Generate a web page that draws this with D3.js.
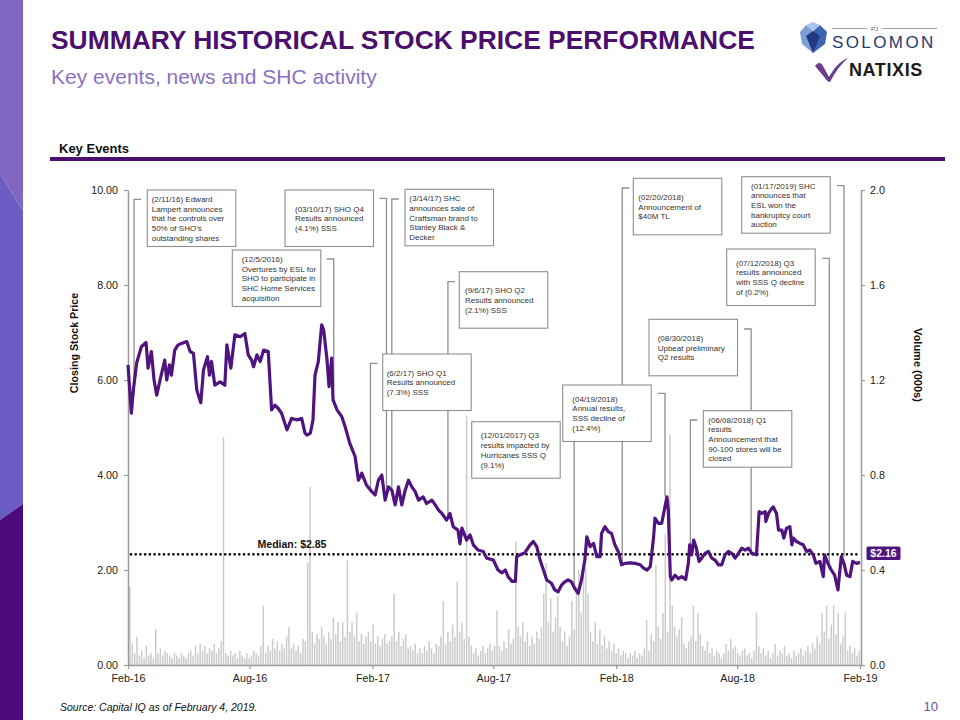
<!DOCTYPE html>
<html><head><meta charset="utf-8">
<script src="https://cdn.jsdelivr.net/npm/d3@7/dist/d3.min.js"></script>
<style>
body{margin:0;background:#fff;}
svg{display:block;font-family:"Liberation Sans",Arial,Helvetica,sans-serif;}
</style>
</head><body>
<svg id="c" width="960" height="720"></svg>
<script>
// ---------------- DATA ----------------
// Closing price: calendar-day offset from 2016-02-01, and closing price ($)
const priceStartDate = "2016-02-01";
const priceDayOffset = [0,5,8,13,20,27,30,35,39,43,48,55,58,62,65,70,75,80,88,93,98,103,109,113,119,122,125,130,138,145,148,154,160,168,175,180,185,188,193,198,203,210,215,220,225,230,238,245,253,260,265,268,273,277,280,285,290,293,298,301,305,307,313,320,325,332,340,345,350,357,365,370,375,380,385,390,395,400,405,410,415,420,425,430,435,442,447,455,460,465,470,477,482,487,494,497,500,507,512,517,524,532,537,547,554,560,565,569,575,580,582,587,594,602,607,612,617,622,627,634,639,644,649,654,659,664,669,674,679,684,687,692,697,702,707,709,714,719,724,729,734,739,744,752,759,767,772,777,782,787,789,794,799,802,807,809,812,814,819,824,829,835,839,841,844,847,851,855,859,864,869,874,879,884,889,894,899,904,909,914,919,924,929,934,941,945,949,954,955,959,964,966,971,974,979,982,986,991,994,996,1001,1006,1011,1016,1021,1026,1030,1036,1041,1043,1048,1053,1058,1063,1068,1072,1076,1081,1085,1091,1096];
const priceClose = [6.32,5.30,5.79,6.36,6.70,6.79,6.25,6.60,6.00,5.68,6.00,6.42,6.00,6.32,6.10,6.63,6.74,6.77,6.81,6.60,6.56,5.79,5.52,6.21,6.49,6.10,6.39,5.89,5.96,5.89,6.74,6.25,6.95,6.91,6.98,6.53,6.42,6.28,6.53,6.39,6.63,6.60,5.37,5.47,5.40,5.30,4.95,5.19,5.16,5.19,4.88,4.84,4.88,5.16,6.10,6.39,7.16,7.05,6.42,5.86,6.46,5.58,5.37,5.23,5.02,4.67,4.39,3.89,4.04,3.79,3.65,3.58,3.89,4.00,3.47,3.75,3.68,3.37,3.75,3.37,3.68,3.89,3.75,3.65,3.47,3.54,3.40,3.47,3.37,3.26,3.19,3.05,3.19,2.91,2.84,2.55,2.88,2.63,2.74,2.53,2.42,2.39,2.25,2.21,2.00,1.94,2.00,1.86,1.76,1.76,2.28,2.32,2.36,2.53,2.60,2.49,2.21,2.00,1.79,1.72,1.58,1.54,1.68,1.75,1.79,1.75,1.61,1.51,1.79,2.21,2.70,2.49,2.56,2.28,2.28,2.77,2.91,2.81,2.77,2.53,2.39,2.11,2.14,2.15,2.14,2.11,2.04,2.00,2.07,2.70,3.09,2.98,2.98,3.19,3.54,3.26,1.86,1.79,1.89,1.82,1.86,1.80,2.14,2.53,2.32,2.63,2.46,2.18,2.25,2.35,2.39,2.25,2.21,2.11,2.11,2.32,2.39,2.35,2.25,2.35,2.46,2.42,2.46,2.35,2.32,3.23,3.19,3.23,3.02,3.19,3.30,3.33,3.19,2.84,2.84,2.67,2.88,2.91,2.53,2.67,2.60,2.56,2.53,2.39,2.42,2.32,2.14,2.18,1.86,2.32,2.14,2.00,1.89,1.58,2.28,2.14,1.89,1.86,2.18,2.14,2.16];

// Volume (right axis), one reading every 3.5 calendar days from 2016-02-04
const volumeStartDate = "2016-02-04";
const volumeStepDays = 3.5;
const volume = [0.33,0.09,0.05,0.12,0.04,0.06,0.03,0.08,0.04,0.05,0.03,0.15,0.05,0.07,0.04,0.06,0.05,0.04,0.03,0.05,0.04,0.03,0.05,0.04,0.03,0.05,
0.06,0.04,0.08,0.05,0.09,0.06,0.08,0.05,0.07,0.06,0.09,0.05,0.07,0.10,0.96,0.05,0.04,0.06,0.04,0.05,0.03,0.06,0.04,0.03,0.05,0.03,0.04,0.06,0.05,0.04,0.08,0.25,0.05,0.08,0.06,0.11,0.07,0.10,0.06,0.09,0.07,0.12,0.16,0.07,0.09,0.06,0.08,0.05,0.11,0.10,0.43,0.75,0.14,0.09,0.13,0.11,0.16,0.12,0.09,0.14,0.11,0.20,0.13,0.18,0.10,0.18,0.12,0.44,0.14,0.18,0.12,0.22,0.10,0.13,0.09,0.12,0.14,0.10,0.17,0.09,0.12,0.08,0.11,0.13,0.09,0.10,0.12,0.30,0.10,0.14,0.08,0.11,0.13,0.07,0.08,0.06,0.09,0.05,0.07,0.05,0.08,0.06,0.10,0.07,0.05,0.09,0.08,0.12,0.27,0.09,0.14,0.10,0.17,0.12,0.35,0.14,0.18,0.11,1.05,0.12,0.08,0.05,0.07,0.04,0.06,0.08,0.05,0.07,0.09,0.06,0.08,0.23,0.08,0.06,0.10,0.07,0.15,0.09,0.11,0.52,0.16,0.12,0.18,0.10,0.14,0.08,0.12,0.09,0.14,0.11,0.16,0.30,0.43,0.18,0.28,0.14,0.20,0.29,0.16,0.10,0.14,0.08,0.12,0.27,0.15,0.33,0.40,0.22,0.43,0.41,0.30,0.14,0.10,0.18,0.09,0.15,0.08,0.12,0.07,0.10,0.06,0.09,0.05,0.07,0.04,0.06,0.05,0.03,0.05,0.04,0.06,0.03,0.05,0.04,0.07,0.19,0.06,0.13,0.10,0.42,0.16,0.11,0.22,0.55,0.14,0.97,0.25,0.16,0.12,0.15,0.20,0.09,0.07,0.10,0.12,0.25,0.10,0.22,0.13,0.08,0.06,0.10,0.05,0.07,0.04,0.06,0.05,0.03,0.05,0.09,0.06,0.11,0.07,0.08,0.05,0.04,0.06,0.07,0.04,0.05,0.03,0.06,0.22,0.08,0.05,0.07,0.04,0.06,0.03,0.05,0.09,0.04,0.06,0.05,0.08,0.04,0.05,0.03,0.06,0.04,0.05,0.07,0.04,0.06,0.08,0.05,0.09,0.07,0.12,0.09,0.22,0.14,0.25,0.11,0.17,0.25,0.13,0.22,0.09,0.12,0.22,0.06,0.08,0.05,0.07,0.04,0.06];

const xTickDates = ["2016-02-01","2016-08-01","2017-02-01","2017-08-01","2018-02-01","2018-08-01","2019-02-01"];
const priceTicks = [0,2,4,6,8,10];
const volumeTicks = [0,0.4,0.8,1.2,1.6,2.0];

const medianLabel = "Median: $2.85";
const medianLinePrice = 2.33;
const lastPriceLabel = "$2.16";
const lastPrice = 2.16;

// Key events: text lines, leader date and price where the leader ends
const eventLines = [
  ["(2/11/16) Edward","Lampert announces","that he controls over","50% of SHO\u2019s","outstanding shares"],
  ["(03/10/17) SHO Q4","Results announced","(4.1%) SSS"],
  ["(12/5/2016)","Overtures by ESL for","SHO to participate in","SHC Home Services","acquisition"],
  ["(3/14/17) SHC","announces sale of","Craftsman brand to","Stanley Black &","Decker"],
  ["(9/6/17) SHO Q2","Results announced","(2.1%) SSS"],
  ["(6/2/17) SHO Q1","Results announced","(7.3%) SSS"],
  ["(12/01/2017) Q3","results impacted by","Hurricanes SSS Q","(9.1%)"],
  ["(04/19/2018)","Annual results,","SSS decline of","(12.4%)"],
  ["(02/20/2018)","Announcement of","$40M TL"],
  ["(01/17/2019) SHC","announces that","ESL won the","bankruptcy court","auction"],
  ["(07/12/2018) Q3","results announced","with SSS Q decline","of (0.2%)"],
  ["(08/30/2018)","Upbeat preliminary","Q2 results"],
  ["(06/08/2018) Q1","results","Announcement that","90-100 stores will be","closed"]
];
const eventLeaderDate = ["2016-02-10","2017-02-22","2016-12-05","2017-03-02","2017-05-25","2017-01-29","2017-11-30","2018-04-15","2018-02-10","2019-01-08","2018-12-17","2018-08-22","2018-05-23"];
const eventLeaderPrice = [5.68,3.68,5.86,3.72,3.14,3.65,1.58,3.54,2.15,2.27,2.00,2.36,2.53];

// ---------------- LAYOUT (positions only) ----------------
const boxLeft = [147.3,285,232.3,405,459.3,382.7,471.7,562.7,633.3,741.7,726.7,649,703.3];
const boxTop  = [190,190,250,189.3,271.7,354,421.7,385,178.3,176.7,249,319.3,410.7];
const boxPad  = [4.4,10,9.4,4.3,5.7,4,9,9.6,5,9.3,9.3,8.7,5];
const hookTop = [199.3,198.3,259,199,281.7,363.3,430,393.3,188,185.7,258.3,329,420];
const hookDir = [1,-1,-1,1,1,1,-1,-1,1,-1,-1,-1,1];
const BOX_W = 88.5, BOX_H = 56.5, LINE_H = 9.7;

// ---------------- DRAW ----------------
const svg = d3.select("#c");
const FONT = '"Liberation Sans",Arial,Helvetica,sans-serif';
const parse = d3.timeParse("%Y-%m-%d");

// left decorative band
svg.append("polygon").attr("points","0,0 23,0 23,211 0,174").attr("fill","#8166c2");
svg.append("polygon").attr("points","0,174 23,211 23,504 0,520").attr("fill","#6a5cc3");
svg.append("polygon").attr("points","0,520 23,504 23,720 0,720").attr("fill","#4b0b78");

// titles
svg.append("text").attr("x",51).attr("y",49).attr("font-size",26.4).attr("font-weight","bold")
  .attr("fill","#4b0f6e").text("SUMMARY HISTORICAL STOCK PRICE PERFORMANCE");
svg.append("text").attr("x",51).attr("y",84).attr("font-size",21).attr("fill","#8a70c4")
  .text("Key events, news and SHC activity");
svg.append("text").attr("x",59).attr("y",153).attr("font-size",13).attr("font-weight","bold")
  .attr("fill","#111").text("Key Events");
svg.append("rect").attr("x",50).attr("y",157).attr("width",895).attr("height",4).attr("fill","#4b0f6e");

// logos
const logo = svg.append("g");
logo.append("polygon").attr("points","800,32 806,25 813,31 813,53 802,44").attr("fill","#7d9fd8");
logo.append("polygon").attr("points","813,31 820,25 827,32 825,44 813,53").attr("fill","#3f63b3");
logo.append("polygon").attr("points","806,36 813,31 820,36 813,53").attr("fill","#24397f");
logo.append("polygon").attr("points","806,25 813,31 820,25 813,22").attr("fill","#a9c3ea");
logo.append("line").attr("x1",832).attr("x2",867).attr("y1",28.5).attr("y2",28.5).attr("stroke","#888").attr("stroke-width",0.8);
logo.append("line").attr("x1",882).attr("x2",937).attr("y1",28.5).attr("y2",28.5).attr("stroke","#888").attr("stroke-width",0.8);
logo.append("text").attr("x",874.5).attr("y",31).attr("font-size",6).attr("text-anchor","middle").attr("fill","#555").text("PJ");
logo.append("text").attr("x",832).attr("y",48).attr("font-size",17).attr("letter-spacing",2.4).attr("fill","#283b6e").text("SOLOMON");
logo.append("path").attr("d","M815,66 C818,62 821,62 823,66 L829,77 C834,68 840,61 848,58 C841,64 835,72 830,82 C828,82 826,80 825,78 Z").attr("fill","#6b3f8e");
logo.append("text").attr("x",849).attr("y",76).attr("font-size",18).attr("font-weight","bold").attr("letter-spacing",0.6).attr("fill","#1a1a1a").text("NATIXIS");

// scales
const x = d3.scaleTime().domain([parse("2016-02-01"), parse("2019-02-04")]).range([128, 862]);
const yP = d3.scaleLinear().domain([0,10]).range([665,190]);
const yV = d3.scaleLinear().domain([0,2]).range([665,190]);

const start = parse(priceStartDate);
const priceData = priceDayOffset.map((d,i)=>({date:d3.timeDay.offset(start,d), v:priceClose[i]}));
const vStart = parse(volumeStartDate);
const volData = volume.map((v,i)=>({date:d3.timeHour.offset(vStart, Math.round(i*volumeStepDays*24)), v}));

// volume bars
svg.append("g").selectAll("line").data(volData).join("line")
  .attr("x1",d=>x(d.date)).attr("x2",d=>x(d.date))
  .attr("y1",yV(0)).attr("y2",d=>yV(d.v))
  .attr("stroke","#cbcbcb").attr("stroke-width",1.5);

// axes
function styleAxis(g){
  g.selectAll("path.domain").attr("stroke","#9a9a9a").attr("stroke-width",1.5);
  g.selectAll(".tick line").attr("stroke","#9a9a9a").attr("stroke-width",1.2);
  g.selectAll("text").attr("fill","#222").attr("font-family",FONT);
}
const gL = svg.append("g").attr("transform","translate(128,0)")
  .call(d3.axisLeft(yP).tickValues(priceTicks).tickFormat(d3.format(".2f")).tickSize(4).tickSizeOuter(0).tickPadding(6));
gL.attr("font-size",10.7); styleAxis(gL);
const gR = svg.append("g").attr("transform","translate(861,0)")
  .call(d3.axisRight(yV).tickValues(volumeTicks).tickFormat(d3.format(".1f")).tickSize(4).tickSizeOuter(0).tickPadding(5));
gR.attr("font-size",10.7); styleAxis(gR);
const gB = svg.append("g").attr("transform","translate(0,665)")
  .call(d3.axisBottom(x).tickValues(xTickDates.map(parse)).tickFormat(d3.timeFormat("%b-%y")).tickSize(4).tickSizeOuter(0).tickPadding(5));
gB.attr("font-size",10.7); styleAxis(gB);

// axis titles
svg.append("text").attr("transform","translate(78,343) rotate(-90)").attr("text-anchor","middle")
  .attr("font-size",10.7).attr("font-weight","bold").attr("fill","#111").text("Closing Stock Price");
svg.append("text").attr("transform","translate(914,365) rotate(90)").attr("text-anchor","middle")
  .attr("font-size",11).attr("font-weight","bold").attr("fill","#111").text("Volume (000s)");

// leaders
const gLead = svg.append("g");
eventLines.forEach((lines,i)=>{
  const lx = x(parse(eventLeaderDate[i]));
  const top = hookTop[i];
  gLead.append("path")
    .attr("d",`M${lx+hookDir[i]*7},${top} L${lx},${top} L${lx},${yP(eventLeaderPrice[i])}`)
    .attr("fill","none").attr("stroke","#8f8f8f").attr("stroke-width",1.3);
});

// boxes
const gBox = svg.append("g");
eventLines.forEach((lines,i)=>{
  const bx = boxLeft[i], by = boxTop[i];
  gBox.append("rect").attr("x",bx).attr("y",by).attr("width",BOX_W).attr("height",BOX_H)
    .attr("fill","#fff").attr("stroke","#8f8f8f").attr("stroke-width",1.1);
  const first = by + BOX_H/2 - (lines.length-1)*LINE_H/2 + 3;
  const t = gBox.append("text").attr("font-size",8).attr("fill","#333");
  lines.forEach((s,j)=> t.append("tspan").attr("x",bx+boxPad[i]).attr("y",first+j*LINE_H).text(s));
});

// median line
svg.append("line").attr("x1",131).attr("x2",860).attr("y1",yP(medianLinePrice)).attr("y2",yP(medianLinePrice))
  .attr("stroke","#000").attr("stroke-width",2.6).attr("stroke-linecap","round").attr("stroke-dasharray","0.01 4.7");
svg.append("text").attr("x",292).attr("y",548).attr("text-anchor","middle").attr("font-size",10.5)
  .attr("font-weight","bold").attr("fill","#111").text(medianLabel);

// price line
svg.append("path").datum(priceData)
  .attr("d", d3.line().x(d=>x(d.date)).y(d=>yP(d.v)))
  .attr("fill","none").attr("stroke","#4f147d").attr("stroke-width",3.2).attr("stroke-linejoin","round");

// last price tag
svg.append("rect").attr("x",866.5).attr("y",546.5).attr("width",34).attr("height",13.5).attr("rx",1.5).attr("fill","#4f147d");
svg.append("text").attr("x",883.5).attr("y",557).attr("text-anchor","middle").attr("font-size",10.5)
  .attr("font-weight","bold").attr("fill","#fff").text(lastPriceLabel);

// footer
svg.append("text").attr("x",60).attr("y",711).attr("font-size",10.5).attr("font-style","italic").attr("fill","#111")
  .text("Source: Capital IQ as of February 4, 2019.");
svg.append("text").attr("x",938).attr("y",711).attr("text-anchor","end").attr("font-size",13).attr("fill","#6b50a8").text("10");
</script>
</body></html>
